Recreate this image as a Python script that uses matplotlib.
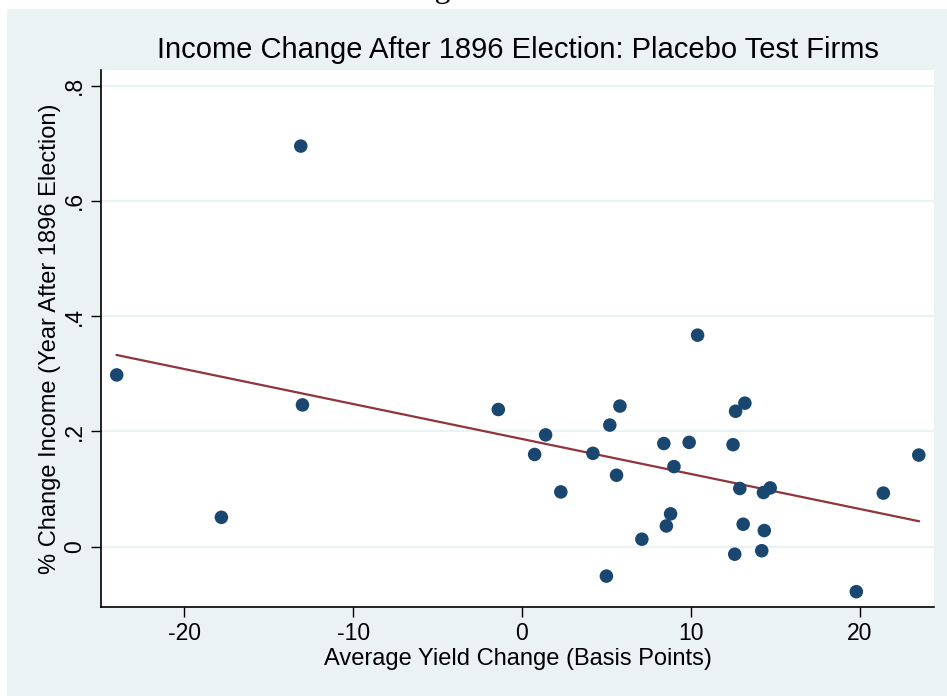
import matplotlib.pyplot as plt
import matplotlib.patches as mpatches
import numpy as np

# Data
yield_change = [-24.0, -17.8, -13.0, -13.1, -1.4, 0.75, 1.4, 2.3, 4.2, 5.0,
                5.2, 5.6, 5.8, 7.1, 8.4, 8.55, 8.8, 9.0, 9.9, 10.4,
                12.5, 12.6, 12.65, 12.9, 13.1, 13.2, 14.2, 14.3, 14.35, 14.7,
                19.8, 21.4, 23.5]
income_change = [0.298, 0.051, 0.246, 0.695, 0.238, 0.160, 0.194, 0.095, 0.162, -0.051,
                 0.211, 0.124, 0.244, 0.013, 0.179, 0.036, 0.057, 0.139, 0.181, 0.367,
                 0.177, -0.013, 0.235, 0.101, 0.039, 0.249, -0.007, 0.094, 0.028, 0.102,
                 -0.078, 0.093, 0.159]

y_ticks = [0, 0.2, 0.4, 0.6, 0.8]
y_tick_labels = ['0', '.2', '.4', '.6', '.8']
x_ticks = [-20, -10, 0, 10, 20]
x_tick_labels = ['-20', '-10', '0', '10', '20']

bg = '#EAF2F3'
navy = '#1A476F'
maroon = '#90353B'
plt.rcParams['font.family'] = ['Liberation Sans', 'DejaVu Sans']
plt.rcParams['axes.unicode_minus'] = False

fig = plt.figure(figsize=(9.47, 6.96), dpi=100, facecolor='white')
fig.patches.append(mpatches.Rectangle((7 / 947, 0), 1, 1 - 9 / 696,
                                      transform=fig.transFigure,
                                      facecolor=bg, edgecolor='none', zorder=-10))
# page header, mostly cut off at the top edge
fig.text(408 / 947, 1 + 3 / 696, 'Figure 13.', ha='left', va='baseline',
         fontsize=23, family='Liberation Serif')

ax = fig.add_axes([101 / 947, 89 / 696, 833 / 947, 537 / 696])
ax.set_facecolor('white')

# Grid
for yt in y_ticks:
    ax.axhline(yt, color=bg, linewidth=1.5, zorder=1)

# Scatter
ax.scatter(yield_change, income_change, s=95, color=navy, edgecolors='none', zorder=3)

# Fitted line
x = np.array(yield_change)
m, b = np.polyfit(x, income_change, 1)
x_line = np.array([x.min(), x.max()])
ax.plot(x_line, m * x_line + b, color=maroon, linewidth=1.6, zorder=2)

ax.set_xlim(-24.93, 24.4)
ax.set_ylim(-0.1046, 0.827)
ax.set_xticks(x_ticks)
ax.set_xticklabels(x_tick_labels)
ax.set_yticks(y_ticks)
ax.set_yticklabels(y_tick_labels, rotation=90, va='center')
ax.tick_params(axis='both', direction='out', length=7, width=1, labelsize=16.5, pad=4)

for side in ['top', 'right']:
    ax.spines[side].set_visible(False)
for side in ['left', 'bottom']:
    ax.spines[side].set_linewidth(1.2)

ax.set_xlabel('Average Yield Change (Basis Points)', fontsize=17, labelpad=2)
ax.set_ylabel('% Change Income (Year After 1896 Election)', fontsize=17, labelpad=1)
ax.set_title('Income Change After 1896 Election: Placebo Test Firms', fontsize=21, pad=9)

plt.savefig('out.png', dpi=100)
